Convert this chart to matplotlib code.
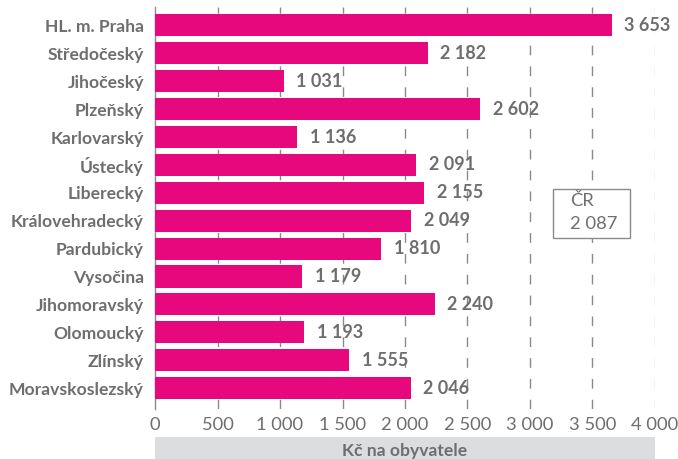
import matplotlib
matplotlib.use("Agg")
import matplotlib.pyplot as plt
from matplotlib.patches import Rectangle

regions = ["HL. m. Praha", "Středočeský", "Jihočeský", "Plzeňský", "Karlovarský",
           "Ústecký", "Liberecký", "Královehradecký", "Pardubický", "Vysočina",
           "Jihomoravský", "Olomoucký", "Zlínský", "Moravskoslezský"]
values = [3653, 2182, 1031, 2602, 1136, 2091, 2155, 2049, 1810, 1179, 2240, 1193, 1555, 2046]
xticks = [0, 500, 1000, 1500, 2000, 2500, 3000, 3500, 4000]
cr_label = "ČR"
cr_value = 2087
x_title = "Kč na obyvatele"

def fmt(v):
    return f"{v:,}".replace(",", " ")

plt.rcParams['font.family'] = ['Lato', 'DejaVu Sans']
GRAY = "#6d6e70"
MAG = "#E8087E"
FS = 12.6
FS_REG = 13.2

fig = plt.figure(figsize=(6.78, 4.59), dpi=100)
W, H = 678, 459
ax = fig.add_axes([155 / W, (H - 409) / H, 500 / W, 402 / H])

y = list(range(len(regions)))
ax.barh(y, values, height=0.79, color=MAG, zorder=3)
ax.set_ylim(13.75, -0.66)
ax.set_xlim(0, 4000)

for xv in xticks[1:]:
    col = "#c8c8c8" if xv == xticks[-1] else "#8a8a8a"
    ax.axvline(xv, color=col, lw=1.0, dashes=(7, 8), zorder=1)

for yi, v in zip(y, values):
    ax.text(v + 100, yi, fmt(v), va="center", ha="left", color=GRAY,
            fontsize=FS + 0.4, fontweight="bold", zorder=4)

ax.set_yticks(y)
ax.set_yticklabels(regions, fontsize=FS, fontweight="bold", color=GRAY)
ax.set_xticks(xticks)
ax.set_xticklabels([fmt(v) for v in xticks], fontsize=FS_REG, color=GRAY)
ax.tick_params(axis="both", length=0)
ax.tick_params(axis="y", pad=8)
ax.tick_params(axis="x", pad=5.5)

for s in ["top", "right", "bottom"]:
    ax.spines[s].set_visible(False)
ax.spines["left"].set_color("#8a8a8a")
ax.spines["left"].set_linewidth(1.0)

# CR box
ax.add_patch(Rectangle((3184, 5.86), 616, 1.76, facecolor="white",
                       edgecolor="#8a8a8a", lw=1.0, zorder=5))
ax.text(3320, 6.28, cr_label, ha="left", va="center", color=GRAY, fontsize=FS_REG, zorder=6)
ax.text(3320, 7.12, fmt(cr_value), ha="left", va="center", color=GRAY, fontsize=FS_REG, zorder=6)

# x title band
fig.patches.append(Rectangle((155 / W, 0), 500 / W, (H - 437) / H,
                             transform=fig.transFigure, facecolor="#dcdddf",
                             edgecolor="none", zorder=0))
fig.text(405 / W, (H - 451) / H, x_title, ha="center", va="center",
         color=GRAY, fontsize=FS, fontweight="bold")

fig.savefig("out.png", dpi=100)
